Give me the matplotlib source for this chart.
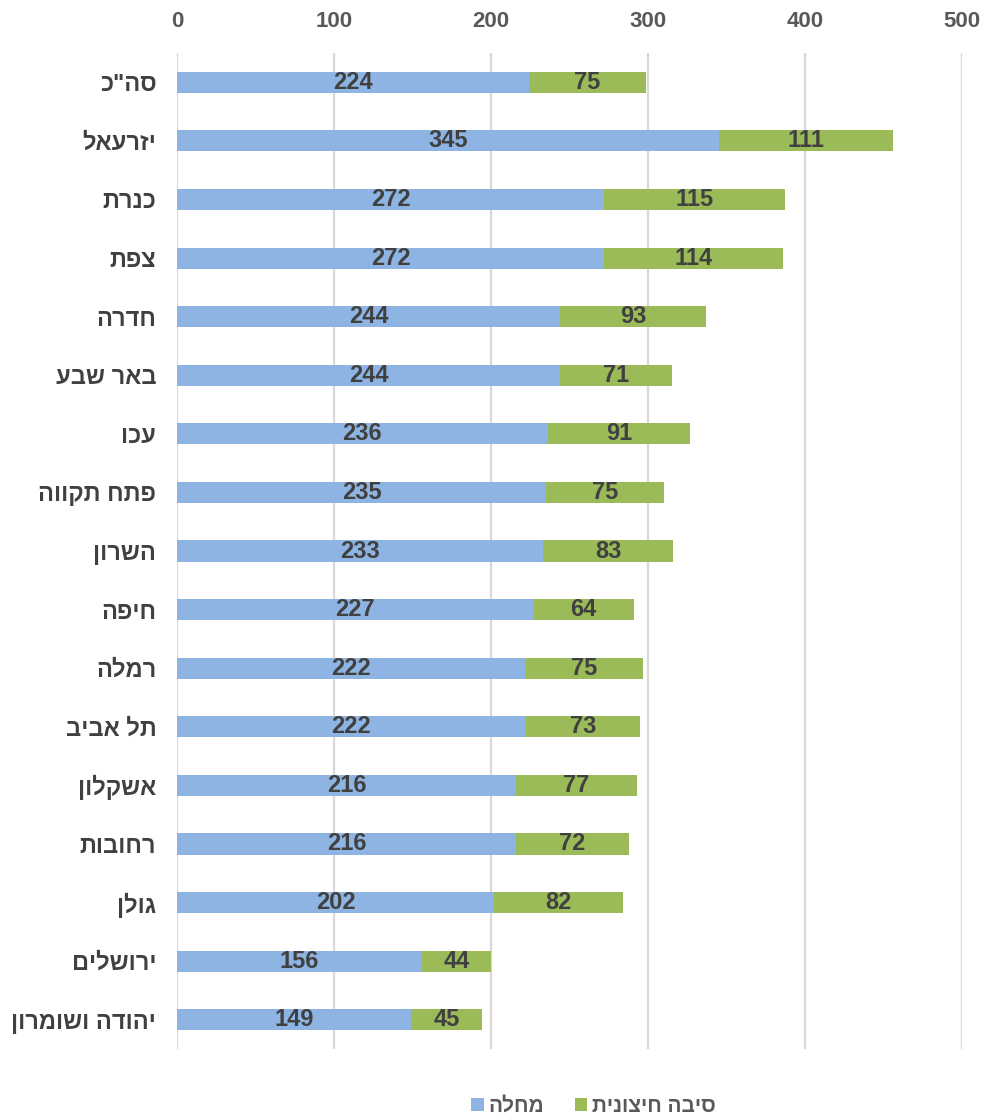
import matplotlib
matplotlib.use("Agg")
from matplotlib import pyplot as plt
import numpy as np

# data
regions = ['סה"כ', 'יזרעאל', 'כנרת', 'צפת', 'חדרה', 'באר שבע', 'עכו', 'פתח תקווה',
           'השרון', 'חיפה', 'רמלה', 'תל אביב', 'אשקלון', 'רחובות', 'גולן',
           'ירושלים', 'יהודה ושומרון']
illness = [224, 345, 272, 272, 244, 244, 236, 235, 233, 227, 222, 222, 216, 216, 202, 156, 149]
external = [75, 111, 115, 114, 93, 71, 91, 75, 83, 64, 75, 73, 77, 72, 82, 44, 45]
series_names = ['מחלה', 'סיבה חיצונית']
x_ticks = [0, 100, 200, 300, 400, 500]

BLUE = "#8DB4E2"
GREEN = "#9BBB59"
FONT = ["Liberation Sans", "DejaVu Sans"]


def rtl(s):
    # matplotlib has no bidi support, so flip hebrew into visual order
    return s[::-1]


plt.rcParams['font.family'] = FONT
plt.rcParams['font.weight'] = "bold"

fig = plt.figure(figsize=(9.84, 11.18), dpi=100)
ax = fig.add_axes([0.18, 0.0617, 0.7976, 0.8909])

y = np.arange(len(regions))
bar_h = 0.36
ax.barh(y, illness, height=bar_h, color=BLUE, label=rtl(series_names[0]), zorder=3)
ax.barh(y, external, left=illness, height=bar_h, color=GREEN, label=rtl(series_names[1]), zorder=3)

for i in range(len(regions)):
    ax.text(illness[i] / 2, y[i], str(illness[i]), ha="center", va="center",
            fontsize=17, fontweight="bold", color="#404040", zorder=4)
    ax.text(illness[i] + external[i] / 2, y[i], str(external[i]), ha="center", va="center",
            fontsize=17, fontweight="bold", color="#404040", zorder=4)

ax.set_xlim(0, 500)
ax.set_ylim(len(regions) - 0.5, -0.5)
ax.set_xticks(x_ticks)
ax.set_yticks(y)
ax.set_yticklabels([rtl(r) for r in regions])
ax.xaxis.tick_top()
ax.tick_params(axis="x", length=0, pad=15, labelsize=16, labelcolor="#595959")
ax.tick_params(axis="y", length=0, pad=15, labelsize=17, labelcolor="#404040")
for s in ax.spines.values():
    s.set_visible(False)
ax.grid(axis="x", color="#D9D9D9", linewidth=1.6, zorder=0)

fig.legend(loc="center", bbox_to_anchor=(0.603, 1 - 1106 / 1118), ncol=2, frameon=False,
           prop={"size": 15, "weight": "bold"}, handlelength=0.6, handleheight=0.6,
           handletextpad=0.2, columnspacing=1.5, labelcolor="#595959")

fig.savefig("out.png", dpi=100)
